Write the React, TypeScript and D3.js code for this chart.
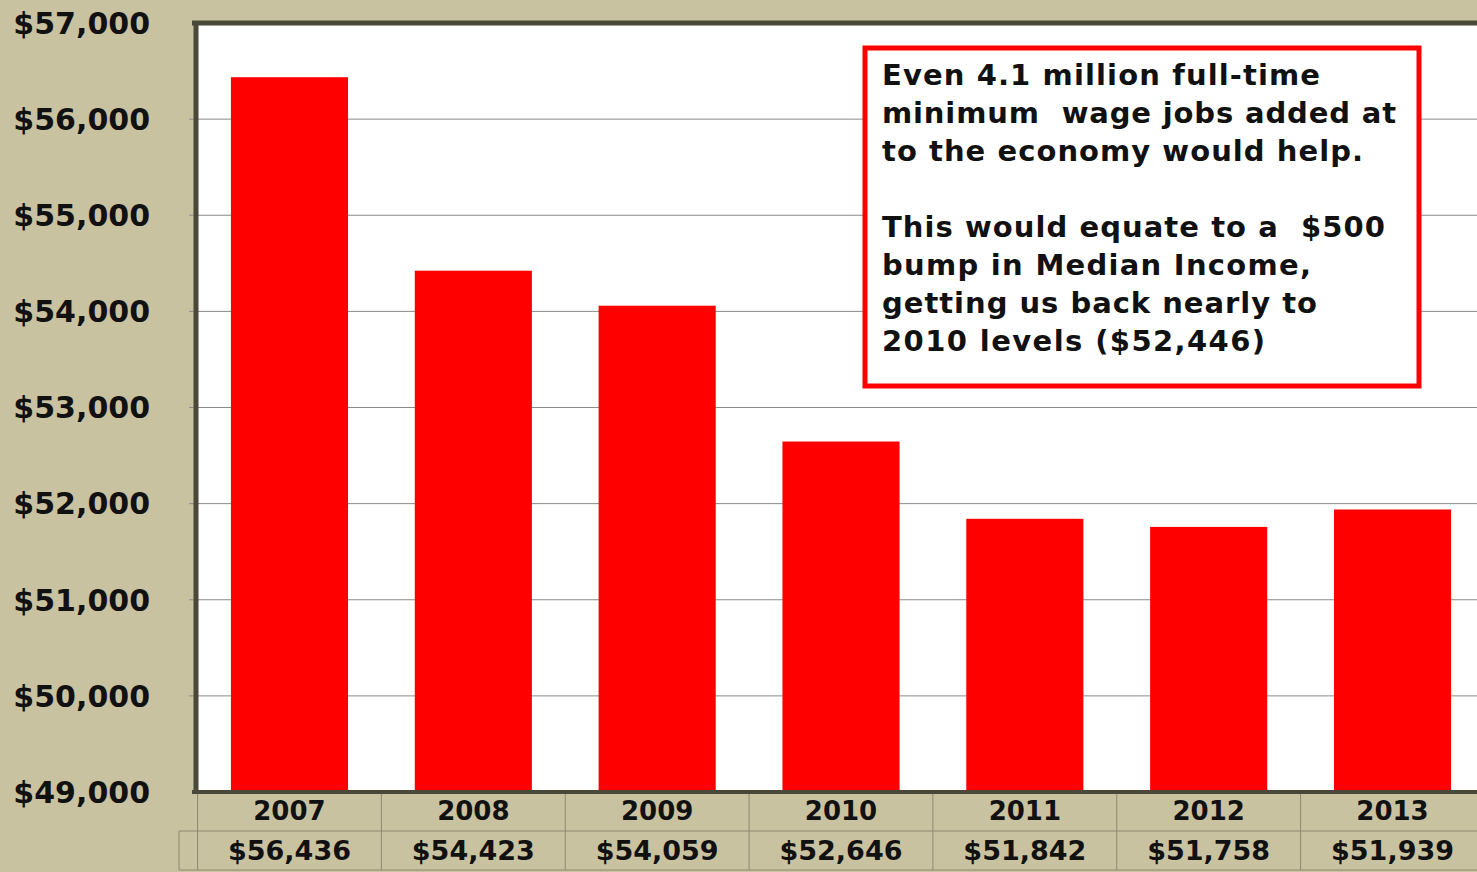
import React from "react";
import * as d3 from "d3";

const years = ["2007", "2008", "2009", "2010", "2011", "2012", "2013"];
const incomes = [56436, 54423, 54059, 52646, 51842, 51758, 51939];
const yTicks = [49000, 50000, 51000, 52000, 53000, 54000, 55000, 56000, 57000];
const noteLines = [
  "Even 4.1 million full-time",
  "minimum  wage jobs added at",
  "to the economy would help.",
  "",
  "This would equate to a  $500",
  "bump in Median Income,",
  "getting us back nearly to",
  "2010 levels ($52,446)",
];
const noteWidths = [438, 514, 481, 0, 503, 429, 435, 383];

const W = 1477;
const H = 872;
const plotLeft = 196;
const plotTop = 23;
const plotBottom = 792;
const plotRight = 1486;
const FONT = "'DejaVu Sans', Verdana, sans-serif";
const BG = "#C9C2A0";
const BORDER = "#4A4838";
const TABLE_LINE = "#8E8870";

export default function App() {
  const y = d3.scaleLinear().domain([49000, 57000]).range([plotBottom, plotTop]);
  const x = d3
    .scaleBand<string>()
    .domain(years)
    .range([plotLeft, plotRight])
    .paddingInner(0.363)
    .paddingOuter(0.19);
  const fmt = d3.format("$,.0f");
  const step = x.step();
  const half = (step * 0.363) / 2;
  const row1Bottom = 831;
  const row2Bottom = 870;
  const tableLeft2 = 179;

  return (
    <svg
      width={W}
      height={H}
      style={{ position: "absolute", left: 0, top: 0, display: "block" }}
      fontFamily={FONT}
    >
      <rect x={0} y={0} width={W} height={H} fill={BG} />
      <rect x={plotLeft} y={plotTop} width={plotRight - plotLeft} height={plotBottom - plotTop} fill="#ffffff" />
      {yTicks.slice(1, -1).map((t) => (
        <line key={t} x1={plotLeft - 7} x2={W} y1={y(t)} y2={y(t)} stroke="#8a8a8a" strokeWidth={1} />
      ))}
      {years.map((yr, i) => (
        <rect
          key={yr}
          x={x(yr)}
          y={y(incomes[i])}
          width={x.bandwidth()}
          height={y(49000) - y(incomes[i])}
          fill="#FF0000"
        />
      ))}
      <line x1={plotLeft - 4} x2={W} y1={plotTop} y2={plotTop} stroke={BORDER} strokeWidth={5} />
      <line x1={plotLeft} x2={plotLeft} y1={plotTop - 2} y2={plotBottom} stroke={BORDER} strokeWidth={5} />
      <line x1={plotLeft - 4} x2={W} y1={plotBottom} y2={plotBottom} stroke={BORDER} strokeWidth={4} />
      {yTicks.map((t) => (
        <text
          key={t}
          x={150}
          y={y(t)}
          dy="0.36em"
          textAnchor="end"
          fontSize={30}
          fontWeight="bold"
          fill="#111"
        >
          {fmt(t)}
        </text>
      ))}
      {years.map((yr) => (
        <line
          key={"v" + yr}
          x1={(x(yr) as number) - half}
          x2={(x(yr) as number) - half}
          y1={plotBottom + 2}
          y2={row2Bottom}
          stroke={TABLE_LINE}
          strokeWidth={1}
        />
      ))}
      <line x1={tableLeft2} x2={tableLeft2} y1={row1Bottom} y2={row2Bottom} stroke={TABLE_LINE} strokeWidth={1} />
      <line x1={tableLeft2} x2={W} y1={row1Bottom} y2={row1Bottom} stroke={TABLE_LINE} strokeWidth={1} />
      <line x1={tableLeft2} x2={W} y1={row2Bottom} y2={row2Bottom} stroke={TABLE_LINE} strokeWidth={1} />
      {years.map((yr, i) => (
        <g key={"t" + yr}>
          <text
            x={(x(yr) as number) + x.bandwidth() / 2}
            y={820}
            textAnchor="middle"
            fontSize={26}
            fontWeight="bold"
            fill="#111"
          >
            {yr}
          </text>
          <text
            x={(x(yr) as number) + x.bandwidth() / 2}
            y={860}
            textAnchor="middle"
            fontSize={27}
            fontWeight="bold"
            fill="#111"
          >
            {fmt(incomes[i])}
          </text>
        </g>
      ))}
      <rect x={865} y={48} width={554} height={338} fill="#ffffff" stroke="#FF0000" strokeWidth={5} />
      {noteLines.map((ln, i) =>
        ln ? (
          <text
            key={i}
            x={882}
            y={85 + i * 38}
            fontSize={29}
            fontWeight="bold"
            fill="#111"
            textLength={noteWidths[i]}
            lengthAdjust="spacing"
            style={{ whiteSpace: "pre" }}
          >
            {ln}
          </text>
        ) : null
      )}
    </svg>
  );
}
